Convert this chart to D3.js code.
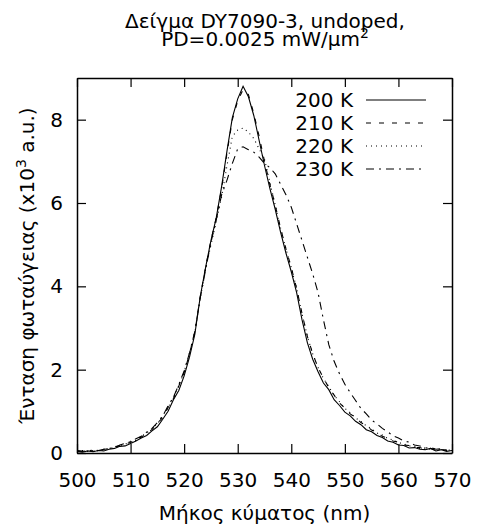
<!DOCTYPE html>
<html>
<head>
<meta charset="utf-8">
<script src="https://cdn.jsdelivr.net/npm/d3@7"></script>
<style>
  body { margin: 0; background: #fff; }
  svg { display: block; font-family: "DejaVu Sans", sans-serif; }
</style>
</head>
<body>
<div id="chart"></div>
<script>
// wavelength grid (nm), one value per nm
const wavelengths = d3.range(500, 571, 1);

// intensity (x10^3 a.u.)
const k200 = [0.04, 0.02, 0.05, 0.03, 0.06, 0.05, 0.09, 0.11, 0.16, 0.17,
  0.23, 0.29, 0.36, 0.42, 0.53, 0.63, 0.81, 1.00, 1.28, 1.50,
  1.85, 2.30, 2.85, 3.75, 4.45, 5.10, 5.65, 6.40, 7.25, 8.05,
  8.50, 8.80, 8.55, 8.10, 7.50, 6.90, 6.35, 5.85, 5.30, 4.80,
  4.35, 3.85, 3.20, 2.65, 2.25, 1.95, 1.68, 1.52, 1.28, 1.14,
  0.98, 0.89, 0.76, 0.68, 0.56, 0.51, 0.42, 0.37, 0.29, 0.26,
  0.19, 0.18, 0.12, 0.13, 0.09, 0.08, 0.11, 0.05, 0.08, 0.04, 0.06];
const k210 = [0.05, 0.04, 0.06, 0.04, 0.07, 0.09, 0.10, 0.15, 0.17, 0.22,
  0.25, 0.33, 0.38, 0.48, 0.56, 0.71, 0.85, 1.09, 1.31, 1.61,
  1.93, 2.38, 2.90, 3.75, 4.45, 5.10, 5.65, 6.35, 7.20, 8.00,
  8.45, 8.72, 8.60, 8.15, 7.60, 7.00, 6.45, 5.95, 5.40, 4.90,
  4.45, 3.95, 3.35, 2.80, 2.38, 2.05, 1.80, 1.57, 1.39, 1.20,
  1.08, 0.94, 0.85, 0.73, 0.66, 0.55, 0.49, 0.40, 0.36, 0.29,
  0.26, 0.19, 0.18, 0.13, 0.13, 0.09, 0.11, 0.07, 0.09, 0.06, 0.07];
const k220 = [0.05, 0.06, 0.04, 0.06, 0.05, 0.08, 0.11, 0.12, 0.18, 0.21,
  0.28, 0.30, 0.41, 0.47, 0.59, 0.70, 0.89, 1.09, 1.34, 1.61,
  1.95, 2.40, 2.90, 3.70, 4.40, 5.00, 5.55, 6.15, 6.90, 7.60,
  7.75, 7.80, 7.70, 7.55, 7.30, 7.05, 6.50, 5.95, 5.40, 4.90,
  4.45, 3.95, 3.35, 2.80, 2.38, 2.05, 1.79, 1.59, 1.38, 1.23,
  1.07, 0.97, 0.84, 0.76, 0.65, 0.58, 0.48, 0.43, 0.35, 0.31,
  0.25, 0.22, 0.17, 0.16, 0.11, 0.12, 0.09, 0.10, 0.07, 0.08, 0.06];
const k230 = [0.06, 0.04, 0.05, 0.07, 0.06, 0.09, 0.11, 0.13, 0.19, 0.23,
  0.27, 0.34, 0.40, 0.50, 0.59, 0.73, 0.89, 1.13, 1.34, 1.64,
  1.97, 2.40, 2.92, 3.72, 4.40, 5.05, 5.60, 6.20, 6.55, 6.95,
  7.30, 7.35, 7.28, 7.22, 7.10, 6.95, 6.85, 6.70, 6.45, 6.20,
  5.90, 5.50, 5.10, 4.70, 4.30, 3.85, 3.20, 2.60, 2.20, 1.90,
  1.65, 1.45, 1.26, 1.07, 0.94, 0.79, 0.70, 0.59, 0.51, 0.41,
  0.36, 0.29, 0.26, 0.19, 0.17, 0.12, 0.13, 0.09, 0.10, 0.07, 0.08];

const seriesNames = ["200 K", "210 K", "220 K", "230 K"];
const seriesValues = [k200, k210, k220, k230];
const dashes = [null, "5,8", "1,4", "8,5,2,5"];

const xTicks = [500, 510, 520, 530, 540, 550, 560, 570];
const yTicks = [0, 2, 4, 6, 8];

const width = 481, height = 528;
const margin = {top: 78, right: 29, bottom: 75, left: 77};
const fontSize = 20;
const tick = 9;

const svg = d3.select("#chart").append("svg")
  .attr("width", width)
  .attr("height", height);

const x = d3.scaleLinear().domain([500, 570]).range([margin.left, width - margin.right]);
const y = d3.scaleLinear().domain([0, 9]).range([height - margin.bottom, margin.top]);

// curves, clipped to the frame
svg.append("clipPath").attr("id", "plot")
  .append("rect")
  .attr("x", x(500)).attr("y", y(9))
  .attr("width", x(570) - x(500)).attr("height", y(0) - y(9));

const line = d3.line()
  .x((d, i) => x(wavelengths[i]))
  .y(d => y(d));

svg.append("g")
  .attr("clip-path", "url(#plot)")
  .selectAll("path")
  .data(seriesValues)
  .join("path")
  .attr("fill", "none")
  .attr("stroke", "#000")
  .attr("stroke-width", 1.1)
  .attr("stroke-dasharray", (d, i) => dashes[i])
  .attr("d", line);

// axes: ticks point inward on all four sides
const axisStyle = g => {
  g.selectAll(".domain").attr("stroke", "#000").attr("stroke-width", 1.5);
  g.selectAll(".tick line").attr("stroke", "#000").attr("stroke-width", 1.2);
  g.selectAll("text").attr("font-size", fontSize).attr("fill", "#000")
    .attr("font-family", "DejaVu Sans, sans-serif");
};

svg.append("g")
  .attr("transform", `translate(0,${y(0)})`)
  .call(d3.axisBottom(x).tickValues(xTicks).tickSize(-tick).tickSizeOuter(0).tickPadding(20))
  .call(axisStyle);

svg.append("g")
  .attr("transform", `translate(0,${y(9)})`)
  .call(d3.axisTop(x).tickValues(xTicks).tickSize(-tick).tickSizeOuter(0).tickFormat(""))
  .call(axisStyle);

svg.append("g")
  .attr("transform", `translate(${x(500)},0)`)
  .call(d3.axisLeft(y).tickValues(yTicks).tickSize(-tick).tickSizeOuter(0).tickPadding(14))
  .call(axisStyle);

svg.append("g")
  .attr("transform", `translate(${x(570)},0)`)
  .call(d3.axisRight(y).tickValues(yTicks).tickSize(-tick).tickSizeOuter(0).tickFormat(""))
  .call(axisStyle);

// title, two lines
svg.append("text")
  .attr("x", 265).attr("y", 28)
  .attr("text-anchor", "middle")
  .attr("font-size", fontSize)
  .attr("fill", "#000")
  .text("Δείγμα DY7090-3, undoped,");
const t2 = svg.append("text")
  .attr("x", 265).attr("y", 46)
  .attr("text-anchor", "middle")
  .attr("font-size", fontSize)
  .attr("fill", "#000");
t2.append("tspan").text("PD=0.0025 mW/μm");
t2.append("tspan").attr("font-size", 14).attr("dy", -8).text("2");

// axis labels
svg.append("text")
  .attr("x", (x(500) + x(570)) / 2)
  .attr("y", 520)
  .attr("text-anchor", "middle")
  .attr("font-size", fontSize)
  .attr("fill", "#000")
  .text("Μήκος κύματος (nm)");

const yl = svg.append("text")
  .attr("transform", `translate(34,${(y(0) + y(9)) / 2}) rotate(-90)`)
  .attr("text-anchor", "middle")
  .attr("font-size", fontSize)
  .attr("fill", "#000");
yl.append("tspan").text("Ένταση φωταύγειας (x10");
yl.append("tspan").attr("font-size", 14).attr("dy", -8).text("3");
yl.append("tspan").attr("dy", 8).text(" a.u.)");

// legend
const legend = svg.append("g")
  .selectAll("g")
  .data(seriesNames)
  .join("g")
  .attr("transform", (d, i) => `translate(0,${100 + i * 23})`);

legend.append("text")
  .attr("x", 353)
  .attr("dy", "0.35em")
  .attr("text-anchor", "end")
  .attr("font-size", fontSize)
  .attr("fill", "#000")
  .text(d => d);

legend.append("line")
  .attr("x1", 366).attr("x2", 426)
  .attr("stroke", "#000")
  .attr("stroke-width", 1.1)
  .attr("stroke-dasharray", (d, i) => dashes[i]);
</script>
</body>
</html>
